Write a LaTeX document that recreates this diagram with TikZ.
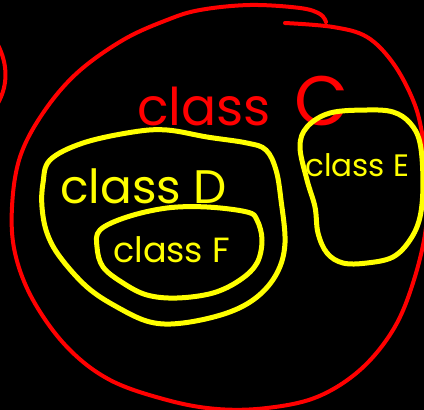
\documentclass[tikz,border=0pt]{standalone}
\usepackage{fontspec}
\setmainfont{Poppins}
\definecolor{boardbg}{HTML}{000000}
\definecolor{outerline}{HTML}{FF0000}
\definecolor{innerline}{HTML}{FFFF00}

\begin{document}
\begin{tikzpicture}[
  x=1pt, y=-1pt,
  loopline/.style = {line cap=round, line join=round},
  outer/.style    = {loopline, draw=outerline, line width=4pt},
  inner/.style    = {loopline, draw=innerline, line width=5pt},
  hand/.style     = {inner sep=0pt, anchor=base west},
]

%% ---------------------------------------------------------------- board
\fill[boardbg] (0,0) rectangle (424,410);
\useasboundingbox (0,0) rectangle (424,410);
\clip (0,0) rectangle (424,410);

%% ---------------------------------------------------------------- class C
\draw[outer] plot[smooth, tension=0.6] coordinates {
  (285,23) (333,27) (367,37) (393,63) (413,100) (422,133) (426,173)
  (426,227) (413,283) (393,330) (360,370) (317,397) (267,408) (217,409)
  (167,400) (110,380) (67,347) (33,300) (15,253) (12,207) (20,157)
  (43,113) (77,73) (123,40) (167,20) (200,10) (250,5) (300,8) (320,14) (326,22)};
\draw[outer] (-2,45) .. controls (8,65) and (8,85) .. (-2,103);
\node[hand, text=outerline, font=\fontsize{52}{52}\selectfont] (ctext) at (137,125)
  {class\hspace{24pt}{\fontsize{70}{70}\selectfont C}};

%% ---------------------------------------------------------------- class D / F
\draw[inner] plot[smooth cycle, tension=0.6] coordinates {
  (50,160) (83,143) (133,132) (167,130) (207,137) (247,143) (266,150)
  (276,170) (281,200) (285,243) (277,273) (257,297) (227,313) (183,323)
  (150,322) (117,307) (87,287) (60,257) (47,233) (42,207) (43,183)};
\node[hand, text=innerline, font=\fontsize{47}{47}\selectfont] (dtext) at (60,203) {class D};

\draw[inner] plot[smooth cycle, tension=0.6] coordinates {
  (100,230) (127,217) (167,208) (207,207) (247,212) (257,220) (262,240)
  (257,263) (240,280) (213,293) (177,298) (147,295) (123,283) (103,267)
  (97,247)};
\node[hand, text=innerline, font=\fontsize{35}{35}\selectfont] (ftext) at (113,262) {class F};

%% ---------------------------------------------------------------- class E
\draw[inner] plot[smooth cycle, tension=0.6] coordinates {
  (300,147) (307,127) (330,113) (367,110) (393,112) (410,123) (420,143)
  (423,183) (420,217) (410,240) (393,257) (367,263) (343,263) (327,253)
  (318,233) (315,207) (307,180)};
\node[hand, text=innerline, font=\fontsize{31}{31}\selectfont] (etext) at (305,176) {class E};
\end{tikzpicture}
\end{document}
